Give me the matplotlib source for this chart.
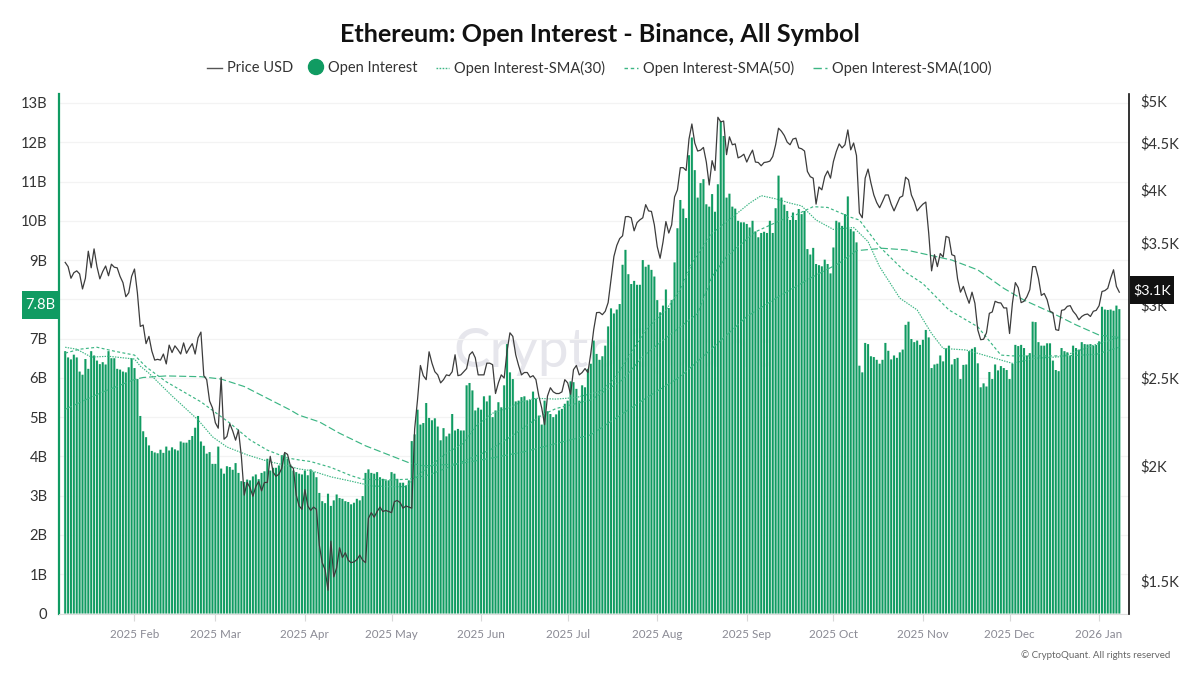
import matplotlib

matplotlib.use("Agg")
import matplotlib.dates as mdates
import matplotlib.pyplot as plt
import pandas as pd
from matplotlib.lines import Line2D
from matplotlib.patches import Circle, Rectangle
from matplotlib.ticker import FixedLocator, FuncFormatter, NullLocator

plt.rcParams["font.family"] = ["Lato", "DejaVu Sans"]

START_DATE = "2025-01-08"

# open interest in billions, one bar per day
open_interest = [
    6.68, 6.52, 6.47, 6.59, 6.52, 6.16, 6.08, 6.48, 6.23, 6.68,
    6.57, 6.44, 6.35, 6.40, 6.34, 6.68, 6.50, 6.50, 6.23, 6.21,
    6.16, 6.14, 6.27, 6.50, 6.25, 5.97, 5.03, 4.64, 4.49, 4.28,
    4.14, 4.10, 4.08, 4.17, 4.09, 4.25, 4.15, 4.23, 4.18, 4.15,
    4.38, 4.35, 4.35, 4.42, 4.52, 4.73, 5.03, 4.38, 4.27, 4.07,
    4.11, 3.81, 3.81, 4.25, 3.69, 3.56, 3.75, 3.73, 3.66, 3.83,
    3.58, 3.37, 3.35, 3.41, 3.39, 3.49, 3.54, 3.42, 3.58, 3.62,
    3.94, 3.64, 3.71, 3.71, 3.77, 4.03, 4.07, 3.94, 3.79, 3.64,
    3.60, 3.56,
    3.54, 3.64, 3.52, 3.67, 3.60, 3.47, 3.07, 2.86, 2.81, 3.05,
    2.74, 2.88, 3.03, 2.94, 2.92, 2.86, 2.84, 2.78, 2.82, 2.92,
    2.88, 2.99, 3.58, 3.67, 3.58, 3.56, 3.60, 3.47, 3.43, 3.39,
    3.39, 3.60, 3.56, 3.43, 3.33, 3.33, 3.26, 3.39, 4.39, 4.56,
    5.19, 4.81, 4.85, 5.36, 4.98, 4.92, 4.97, 4.76, 4.41, 4.72,
    4.51, 4.58, 5.08, 4.66, 4.70, 4.66, 4.66, 5.81, 5.87, 5.68,
    5.17, 5.24, 5.19, 5.53, 5.40, 5.55, 5.00, 5.17, 5.38, 5.25,
    5.81, 6.86, 6.14, 5.97, 5.40, 5.42, 5.51, 5.53, 5.42, 5.44,
    5.65, 5.47, 5.04, 4.81, 5.42, 5.15, 5.08, 5.00, 5.07, 5.17,
    5.21, 5.34, 5.42, 5.91, 5.89, 5.72, 5.42, 5.81, 5.76, 6.23,
    6.36, 6.95, 6.61, 6.46, 6.55, 6.82, 7.31, 7.77, 7.64, 7.74,
    7.88, 8.88, 9.26, 8.64, 8.39, 8.47, 8.37, 8.37, 9.00, 8.83,
    8.88, 8.75, 8.58, 7.98, 7.67, 7.84, 8.25, 7.78, 7.98, 8.94,
    9.81, 10.53, 10.31, 10.07, 11.67, 12.12, 11.29, 10.59, 10.96, 11.06,
    10.42, 10.36, 10.68, 10.23, 10.93, 12.54, 12.16, 10.59, 10.69, 10.36,
    10.31, 10.00, 9.96, 9.96, 9.92, 9.83, 10.00, 9.73, 9.58, 9.69,
    9.72, 9.69, 10.00, 9.69, 10.32, 11.15, 10.59, 10.41, 10.25, 10.02,
    10.21, 10.02, 10.30, 10.17, 10.25, 9.28, 9.14, 9.31, 8.90, 8.87,
    8.84, 9.01, 8.90, 8.66, 9.32, 10.00, 9.96, 9.87, 10.17, 10.62,
    9.79, 9.73, 9.45, 6.31, 6.14, 6.89, 6.86, 6.55, 6.53, 6.46,
    6.36,
    6.46, 6.89, 6.69, 6.47, 6.57, 6.51, 6.65, 6.72, 7.35, 7.43,
    6.99, 6.91, 6.95, 6.84, 6.97, 7.22, 7.03, 6.25, 6.34, 6.36,
    6.57, 6.42, 6.75, 6.82, 6.34, 6.48, 6.51, 5.97, 6.33, 6.34,
    6.68, 6.74, 6.78, 6.37, 5.76, 5.86, 5.78, 6.15, 5.97, 6.34,
    6.19, 6.30, 6.25, 6.20, 5.97, 6.36, 6.84, 6.81, 6.84, 6.76,
    6.57, 6.63, 7.43, 7.42, 6.91, 6.82, 6.82, 6.88, 6.88, 6.44,
    6.20, 6.17, 6.76, 6.68, 6.65, 6.57, 6.82, 6.76, 6.72, 6.91,
    6.86, 6.85, 6.86, 6.82, 6.84, 6.93, 7.81, 7.74, 7.73, 7.74,
    7.71, 7.84, 7.75,
]

# ETH price in USD, daily
price_usd = [
    3335, 3300, 3205, 3250, 3265, 3240, 3120, 3205, 3430, 3290,
    3450, 3300, 3200, 3260, 3305, 3225, 3320, 3295, 3290, 3220,
    3170, 3060, 3090, 3220, 3280, 3090, 2840, 2850, 2720, 2770,
    2670, 2610, 2615, 2610, 2650, 2585, 2710, 2660, 2705, 2680,
    2650, 2725, 2655, 2690, 2720, 2650, 2760, 2800, 2510, 2485,
    2355, 2315, 2230, 2200, 2500, 2140, 2155, 2225, 2185, 2135,
    2190, 2050, 1860, 1920, 1895, 1855, 1900, 1925, 1880, 1920,
    1920, 2050, 1970, 1950, 1960, 1990, 2070, 2060, 2000, 1990,
    1860, 1810, 1795, 1886, 1810, 1790, 1805, 1795, 1640, 1570,
    1543, 1465, 1657, 1515, 1550, 1630, 1590, 1610, 1580, 1570,
    1573, 1582, 1600, 1580, 1570, 1755, 1780, 1760, 1785, 1805,
    1785, 1790, 1785, 1780, 1830, 1835, 1825, 1800, 1810, 1805,
    1800, 2195, 2363, 2575, 2510, 2485, 2665, 2590, 2535, 2515,
    2465, 2485, 2515, 2510, 2535, 2645, 2510, 2515, 2535, 2555,
    2645, 2665, 2625, 2515, 2515, 2515, 2590, 2590, 2580, 2400,
    2465, 2515, 2495, 2670, 2795, 2770, 2645, 2575, 2515, 2530,
    2530, 2500, 2510, 2485, 2385, 2315, 2220, 2385, 2435, 2410,
    2400, 2400, 2410, 2485, 2465, 2395, 2548, 2575, 2515, 2530,
    2555, 2530, 2655, 2817, 2940, 2942, 2925, 2950, 3015, 3193,
    3385, 3480, 3540, 3565, 3740, 3742, 3730, 3610, 3685, 3711,
    3730, 3855, 3795, 3790, 3665, 3470, 3370, 3510, 3695, 3590,
    3665, 3930, 4001, 4230, 4230, 4200, 4545, 4720, 4500, 4410,
    4420, 4450, 4290, 4050, 4305, 4200, 4800, 4745, 4755, 4370,
    4570, 4480, 4490, 4335, 4350, 4375, 4290, 4360, 4420, 4290,
    4285, 4250, 4285, 4290, 4300, 4350, 4480, 4670, 4635, 4585,
    4510, 4480, 4545, 4555, 4445, 4435, 4410, 4190, 4135, 4120,
    3860, 4030, 4001, 4135, 4195, 4120, 4295, 4405, 4490, 4445,
    4480, 4650, 4423, 4500, 4360, 3775, 3730, 4120, 4215, 4070,
    3950, 3875, 3825, 3885, 3950, 3950, 3860, 3795, 3860, 3925,
    3940, 4130, 4103, 3950, 3885, 3795, 3830, 3860, 3880, 3590,
    3265, 3400, 3300, 3410, 3380, 3560, 3550, 3400, 3390, 3200,
    3095, 3140, 3070, 3010, 3095, 3010, 2815, 2747, 2750, 2795,
    2935, 2945, 3025, 3015, 3012, 2975, 2975, 2790, 3012, 3170,
    3130, 3015, 3025, 3060, 3114, 3300, 3300, 3205, 3070, 3085,
    3037, 2950, 2940, 2817, 2812, 2957, 2962, 2987, 2992, 2950,
    2925, 2888, 2912, 2925, 2930, 2912, 2950, 2957, 2992, 3100,
    3107, 3125, 3205, 3274, 3140, 3095,
]

# moving averages read at a coarser step, days counted from START_DATE
sma30_days = [
    0, 4, 9, 15, 24, 26, 29, 37, 46, 51, 56, 63, 70, 77, 81, 85, 92, 99, 106, 112,
    118, 120, 126, 132, 138, 142, 148, 154, 158, 163, 170, 177, 182, 185, 190, 194,
    201, 208, 213, 217, 224, 232, 237, 241, 246, 251, 255, 260, 266, 273, 278, 282,
    289, 295, 300, 304, 312, 320, 328, 336, 345, 353, 358, 365,
]
sma30_values = [
    6.78, 6.73, 6.53, 6.55, 6.48, 6.3, 6.12, 5.54, 4.93, 4.5, 4.24, 4.04, 3.88, 3.76, 3.68, 3.64, 3.48, 3.37, 3.25, 3.23,
    3.23, 3.4, 3.74, 4.08, 4.34, 4.76, 5.1, 5.25, 5.39, 5.48, 5.46, 5.5, 5.6, 5.65, 5.95, 6.41,
    7.22, 7.73, 8.24, 8.92, 9.68, 10.15, 10.45, 10.64, 10.56, 10.45, 10.38, 10.02, 9.78, 9.83, 9.47, 8.83,
    8.03, 7.73, 7.13, 6.75, 6.71, 6.54, 6.37, 6.5, 6.54, 6.75, 6.88, 7.03,
]
sma50_days = [
    0, 5, 11, 17, 24, 28, 35, 47, 57, 64, 70, 77, 81, 85, 92, 99, 103, 112, 119, 126,
    136, 147, 156, 165, 170, 182, 193, 200, 207, 213, 219, 224, 229, 239, 248, 253,
    259, 264, 272, 275, 282, 291, 297, 306, 316, 324, 328, 336, 346, 357, 365,
]
sma50_values = [
    6.63, 6.73, 6.78, 6.68, 6.58, 6.28, 5.9, 5.39, 4.85, 4.42, 4.16, 3.96, 3.91, 3.87, 3.72, 3.51, 3.42, 3.4, 3.42, 3.53,
    3.82, 4.16, 4.59, 5.05, 5.22, 5.44, 5.95, 6.54, 6.96, 7.3, 7.64, 8.58, 9.09, 9.72, 10.02, 10.15,
    10.36, 10.34, 10.09, 10.02, 9.34, 8.69, 8.4, 7.73, 7.3, 6.58, 6.56, 6.56, 6.56, 6.6, 6.78,
]
sma100_days = [
    0, 12, 24, 27, 35, 47, 54, 62, 70, 78, 81, 88, 95, 104, 119, 124, 136, 147, 159, 170,
    182, 201, 213, 224, 236, 247, 259, 268, 274, 283, 291, 299, 307, 316, 325, 332, 341, 350, 358, 365,
]
sma100_values = [
    5.2, 5.61, 5.96, 6.01, 6.05, 6.03, 5.97, 5.78, 5.48, 5.18, 5.05, 4.88, 4.59, 4.27, 3.84, 3.76, 3.81, 3.95, 4.12, 4.33,
    4.55, 5.48, 6.03, 6.75, 7.56, 8.07, 8.58, 8.92, 9.24, 9.3, 9.26, 9.13, 9.0, 8.75, 8.28, 7.98, 7.68, 7.35, 7.09, 7.03,
]

# the 8B label sits under the current value box in the original
oi_ticks = list(range(0, 14))
oi_tick_labels = ["0", "1B", "2B", "3B", "4B", "5B", "6B", "7B", "", "9B", "10B", "11B", "12B", "13B"]
price_ticks = [1500, 2000, 2500, 3000, 3500, 4000, 4500, 5000]
price_tick_labels = ["$1.5K", "$2K", "$2.5K", "$3K", "$3.5K", "$4K", "$4.5K", "$5K"]
month_ticks = pd.date_range("2025-02-01", "2026-01-01", freq="MS")
month_labels = [d.strftime("%Y %b") for d in month_ticks]

GREEN = "#109b62"
PALE = "#dff1e8"
SMA_GREEN = "#3cb684"
W, H = 1200, 675


def fx(px):
    return px / W


def fy(px):
    return 1 - px / H


fig = plt.figure(figsize=(12, 6.75), dpi=100)
ax = fig.add_axes([fx(58.5), fy(613.5), fx(1129 - 58.5), (613.5 - 93.5) / H])
ax.patch.set_alpha(0)

start = pd.Timestamp(START_DATE)
days = pd.date_range(start, periods=len(open_interest))
price_days = pd.date_range(start, periods=len(price_usd))

ax.bar(days, open_interest, width=1.0, color=PALE, zorder=2, linewidth=0, snap=False)
ax.bar(days, open_interest, width=0.68, color=GREEN, zorder=3, linewidth=0, snap=False)

for d, v, style in [
    (sma30_days, sma30_values, (0, (1.2, 1.0))),
    (sma50_days, sma50_values, (0, (2.5, 2.0))),
    (sma100_days, sma100_values, (0, (6, 2.5))),
]:
    ax.plot(start + pd.to_timedelta(d, unit="D"), v, color=SMA_GREEN, lw=0.85, ls=style, zorder=4)

feb1 = mdates.date2num(pd.Timestamp("2025-02-01"))
ax.set_xlim(feb1 - 76 / 2.888, feb1 + 994.5 / 2.888)
ax.set_ylim(0, 520 / 39.27)
ax.set_yticks(oi_ticks, oi_tick_labels)
ax.set_xticks(month_ticks, month_labels)
ax.tick_params(axis="y", length=0, pad=8, labelsize=10.6, labelcolor="#333333")
ax.tick_params(axis="x", length=5, width=0.8, color="#d8d8d8", pad=12.5, labelsize=8.4, labelcolor="#8a8a94")
for label in ax.get_xticklabels():
    label.set_verticalalignment("baseline")
ax.grid(axis="y", color="#f3f3f3", lw=0.9, zorder=0)
ax.set_axisbelow(True)
ax.spines["top"].set_visible(False)
ax.spines["right"].set_visible(False)
ax.spines["left"].set_color(GREEN)
ax.spines["left"].set_linewidth(1.6)
ax.spines["bottom"].set_color("#dddddd")
ax.spines["bottom"].set_linewidth(0.8)

# watermark goes behind the axes so the bars cover it
fig.text(fx(453), fy(352), "CryptoQuant", fontsize=39.5, color="#e6e6ec", ha="left", va="center", zorder=-1)

ax2 = ax.twinx()
ax2.set_yscale("log")
ax2.plot(price_days, price_usd, color="#3c3c3c", lw=0.9, zorder=5)
ax2.set_ylim(1382, 5095)
ax2.yaxis.set_major_locator(FixedLocator(price_ticks))
ax2.yaxis.set_major_formatter(FuncFormatter(lambda v, _: price_tick_labels[price_ticks.index(int(round(v)))]))
ax2.yaxis.set_minor_locator(NullLocator())
ax2.tick_params(axis="y", length=0, pad=8.5, labelsize=10.6, labelcolor="#333333")
for side in ["top", "left", "bottom"]:
    ax2.spines[side].set_visible(False)
ax2.spines["right"].set_color("#111111")
ax2.spines["right"].set_linewidth(1.2)

fig.text(0.5, fy(35), "Ethereum: Open Interest - Binance, All Symbol", ha="center", va="center",
         fontsize=18.1, fontweight="bold", color="#111111")

# legend row
legend_items = [
    (207, 222, "-", "#555555", 227, "Price USD"),
    (436, 449, (0, (1.2, 1.0)), SMA_GREEN, 454, "Open Interest-SMA(30)"),
    (624, 638, (0, (2.5, 2.0)), SMA_GREEN, 643, "Open Interest-SMA(50)"),
    (813, 827, (0, (6, 2.5)), SMA_GREEN, 832, "Open Interest-SMA(100)"),
]
for x0, x1, style, color, text_x, label in legend_items:
    fig.add_artist(Line2D([fx(x0), fx(x1)], [fy(68), fy(68)], color=color, lw=1.0, ls=style))
    fig.text(fx(text_x), fy(68), label, ha="left", va="center", fontsize=10.5, color="#333333")
fig.add_artist(Circle((316, H - 67), 7.5, color=GREEN, transform=None))
fig.text(fx(328), fy(68), "Open Interest", ha="left", va="center", fontsize=10.5, color="#333333")

# current value boxes on both axes
fig.add_artist(Rectangle((fx(22), fy(319)), fx(36), 28 / H, color=GREEN, transform=fig.transFigure, lw=0))
fig.text(fx(40), fy(305), "7.8B", ha="center", va="center", fontsize=10.6, color="white")
fig.add_artist(Rectangle((fx(1130), fy(304)), fx(44), 28 / H, color="#111111", transform=fig.transFigure, lw=0))
fig.text(fx(1152), fy(290), "$3.1K", ha="center", va="center", fontsize=10.4, color="white")

fig.text(fx(1170), fy(655), "© CryptoQuant. All rights reserved", ha="right", va="center",
         fontsize=7.0, color="#666666")

fig.savefig("out.png", dpi=100)
